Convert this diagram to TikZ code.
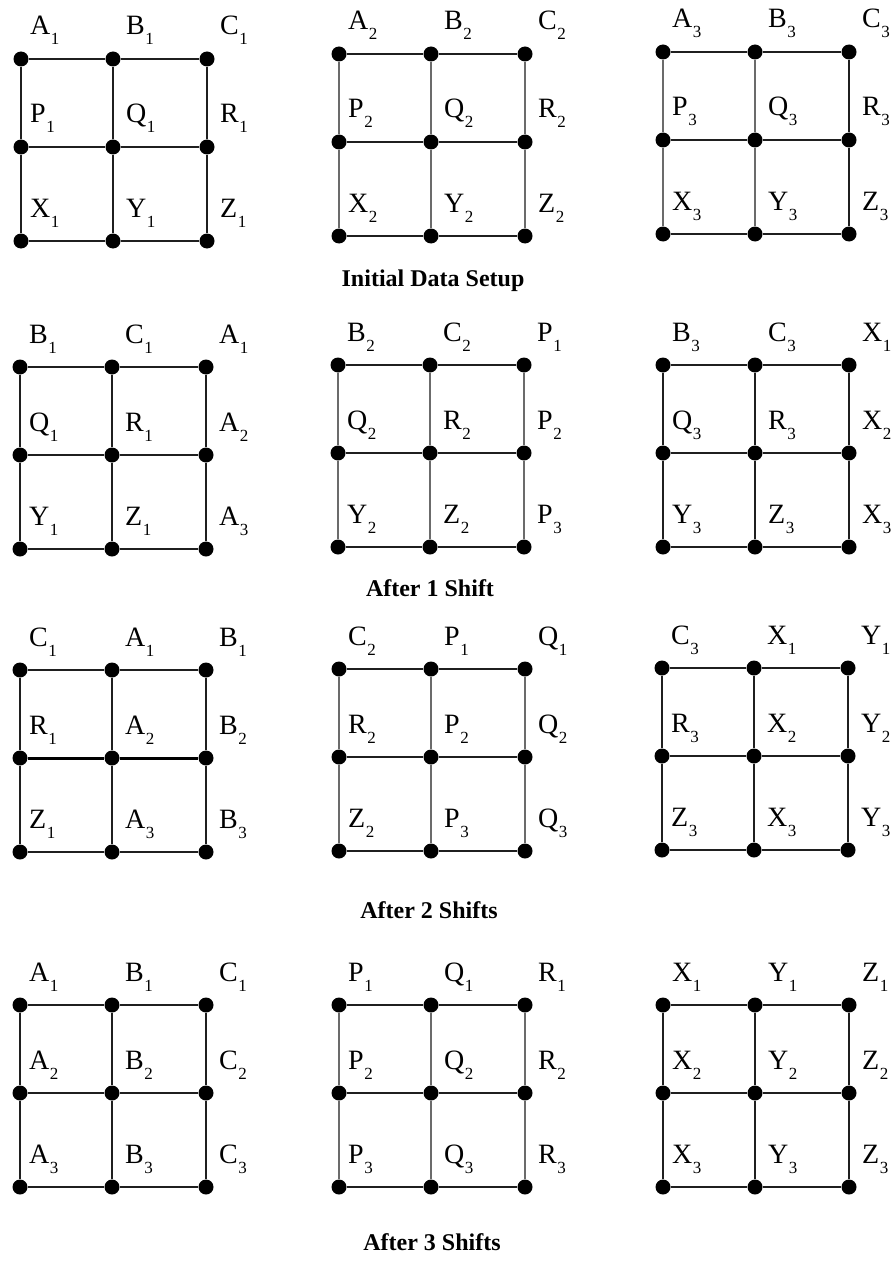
\documentclass[tikz,border=0pt]{standalone}
\usepackage{fontspec}
\setmainfont{Liberation Serif}
\newcommand\lab[2]{{\fontsize{28}{28}\selectfont #1}\kern0.5pt\raisebox{-10pt}{\fontsize{17}{17}\selectfont #2}}
\tikzset{
  ln/.style={draw=black!88, line width=2pt},
  gln/.style={draw=black!58, line width=2.3pt},
  tln/.style={draw=black, line width=3pt},
  dot/.style={circle, fill=black, inner sep=0pt, minimum size=15pt},
  lbl/.style={anchor=base west, inner sep=0pt},
  captxt/.style={anchor=base, inner sep=0pt, font=\fontsize{24}{24}\selectfont\bfseries},
}
\newcommand\mkgrid[6]{%
  \def\vgray{#4}\def\hthick{#5}%
  \foreach \c/\dx in {0/0,1/92,2/186}{%
    \foreach \r/\dy in {0/0,1/88,2/182}{%
      \node[dot] (#1-\c-\r) at ({#2+\dx},{#3+\dy}) {};}}
  \foreach \r in {0,1,2}{%
    \ifnum\r=\hthick\relax
      \draw[tln] (#1-0-\r) -- (#1-1-\r) -- (#1-2-\r);
    \else
      \draw[ln] (#1-0-\r) -- (#1-1-\r) -- (#1-2-\r);
    \fi}
  \foreach \c in {0,1,2}{%
    \ifnum\c<\vgray\relax
      \draw[gln] (#1-\c-0) -- (#1-\c-1) -- (#1-\c-2);
    \else
      \draw[ln] (#1-\c-0) -- (#1-\c-1) -- (#1-\c-2);
    \fi}
  \foreach \lname/\lsub [count=\k from 0] in {#6}{%
    \pgfmathtruncatemacro\cc{mod(\k,3)}%
    \pgfmathtruncatemacro\rr{div(\k,3)}%
    \pgfmathsetmacro\ox{ifthenelse(\cc==0,9,13)}%
    \node[lbl] (#1-l-\cc-\rr) at ([xshift=\ox pt, yshift=24pt]#1-\cc-\rr.center) {\lab{\lname}{\lsub}};}
}
\begin{document}
\begin{tikzpicture}[x=1pt, y=-1pt]
\useasboundingbox[fill=white] (0,0) rectangle (892,1284);
% Row 1
\mkgrid{a1}{21}{59}{0}{-1}{A/1,B/1,C/1,P/1,Q/1,R/1,X/1,Y/1,Z/1}
\mkgrid{a2}{339}{54}{3}{-1}{A/2,B/2,C/2,P/2,Q/2,R/2,X/2,Y/2,Z/2}
\mkgrid{a3}{663}{52}{2}{-1}{A/3,B/3,C/3,P/3,Q/3,R/3,X/3,Y/3,Z/3}
\node[captxt] (cap1) at (433,286) {Initial Data Setup};
% Row 2
\mkgrid{b1}{20}{367}{0}{-1}{B/1,C/1,A/1,Q/1,R/1,A/2,Y/1,Z/1,A/3}
\mkgrid{b2}{338}{365}{3}{-1}{B/2,C/2,P/1,Q/2,R/2,P/2,Y/2,Z/2,P/3}
\mkgrid{b3}{663}{365}{0}{-1}{B/3,C/3,X/1,Q/3,R/3,X/2,Y/3,Z/3,X/3}
\node[captxt] (cap2) at (430,596) {After 1 Shift};
% Row 3
\mkgrid{c1}{20}{670}{0}{1}{C/1,A/1,B/1,R/1,A/2,B/2,Z/1,A/3,B/3}
\mkgrid{c2}{339}{669}{3}{-1}{C/2,P/1,Q/1,R/2,P/2,Q/2,Z/2,P/3,Q/3}
\mkgrid{c3}{662}{668}{0}{-1}{C/3,X/1,Y/1,R/3,X/2,Y/2,Z/3,X/3,Y/3}
\node[captxt] (cap3) at (429,918) {After 2 Shifts};
% Row 4
\mkgrid{d1}{20}{1005}{0}{-1}{A/1,B/1,C/1,A/2,B/2,C/2,A/3,B/3,C/3}
\mkgrid{d2}{339}{1005}{3}{-1}{P/1,Q/1,R/1,P/2,Q/2,R/2,P/3,Q/3,R/3}
\mkgrid{d3}{663}{1005}{0}{-1}{X/1,Y/1,Z/1,X/2,Y/2,Z/2,X/3,Y/3,Z/3}
\node[captxt] (cap4) at (432,1250) {After 3 Shifts};
\end{tikzpicture}
\end{document}
